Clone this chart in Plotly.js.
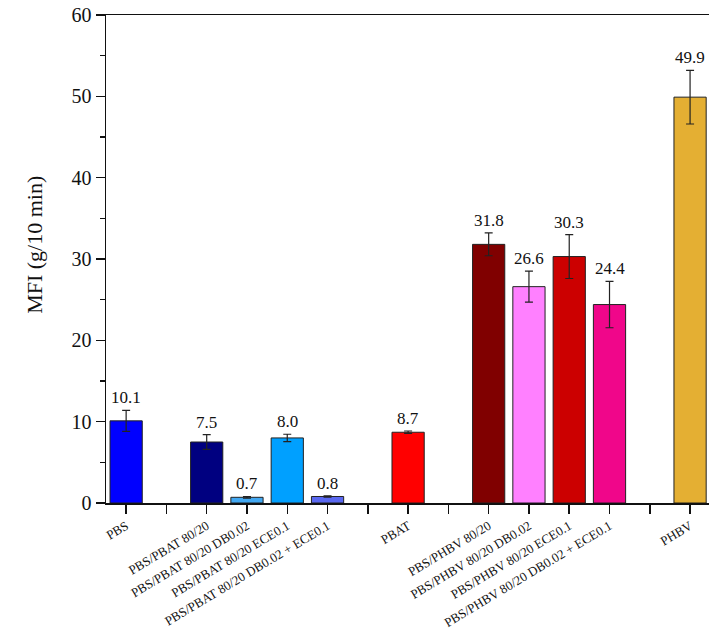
<!DOCTYPE html>
<html>
<head>
<meta charset="utf-8">
<script src="https://cdn.plot.ly/plotly-3.0.1.min.js"></script>
<style>
  html, body { margin: 0; padding: 0; background: #fff; }
  #chart { width: 709px; height: 643px; }
</style>
</head>
<body>
<div id="chart"></div>
<script>
// Sample slots along the x axis (empty strings are spacer slots)
const slotLabels = [
  "PBS", "",
  "PBS/PBAT 80/20", "PBS/PBAT 80/20 DB0.02", "PBS/PBAT 80/20 ECE0.1", "PBS/PBAT 80/20 DB0.02 + ECE0.1",
  "", "PBAT", "",
  "PBS/PHBV 80/20", "PBS/PHBV 80/20 DB0.02", "PBS/PHBV 80/20 ECE0.1", "PBS/PHBV 80/20 DB0.02 + ECE0.1",
  "", "PHBV"
];

// Melt flow index per sample (g/10 min) and its standard deviation
const samples = [
  "PBS",
  "PBS/PBAT 80/20", "PBS/PBAT 80/20 DB0.02", "PBS/PBAT 80/20 ECE0.1", "PBS/PBAT 80/20 DB0.02 + ECE0.1",
  "PBAT",
  "PBS/PHBV 80/20", "PBS/PHBV 80/20 DB0.02", "PBS/PHBV 80/20 ECE0.1", "PBS/PHBV 80/20 DB0.02 + ECE0.1",
  "PHBV"
];
const mfi    = [10.1, 7.5, 0.7, 8.0, 0.8, 8.7, 31.8, 26.6, 30.3, 24.4, 49.9];
const mfiErr = [1.3, 0.9, 0.1, 0.45, 0.08, 0.15, 1.4, 1.9, 2.7, 2.85, 3.3];

const barColors = [
  "#0000ff",
  "#000080", "#42a8f2", "#00a0ff", "#5a68f0",
  "#ff0000",
  "#800000", "#ff80ff", "#cc0000", "#f0068a",
  "#e4af33"
];

const serif = "'Liberation Serif', 'Times New Roman', Times, serif";

const xPos = samples.map(s => slotLabels.indexOf(s));

const bars = {
  type: "bar",
  x: xPos,
  y: mfi,
  width: 0.8,
  marker: { color: barColors, line: { color: "#222", width: 1 } },
  error_y: { type: "data", array: mfiErr, visible: true, color: "#222", thickness: 1.2, width: 4 },
  hoverinfo: "skip"
};

// value labels sit just above each error bar
const valueLabels = samples.map((s, i) => ({
  x: xPos[i],
  y: mfi[i] + mfiErr[i],
  xref: "x", yref: "y",
  text: mfi[i].toFixed(1),
  showarrow: false,
  yanchor: "bottom",
  yshift: 1,
  font: { family: serif, size: 17, color: "#111" }
}));

const yTitle = {
  xref: "paper", yref: "paper",
  x: 0, y: 0.529,
  xshift: -71,
  xanchor: "center", yanchor: "middle",
  text: "MFI (g/10 min)",
  textangle: -90,
  showarrow: false,
  font: { family: serif, size: 22, color: "#111" }
};

const layout = {
  width: 709,
  height: 643,
  margin: { l: 106, r: 0, t: 15, b: 140 },
  paper_bgcolor: "#fff",
  plot_bgcolor: "#fff",
  showlegend: false,
  bargap: 0,
  xaxis: {
    range: [-0.5, 14.47],
    tickmode: "array",
    tickvals: slotLabels.map((_, i) => i),
    ticktext: slotLabels,
    tickangle: -31,
    ticks: "outside",
    ticklen: 9,
    tickwidth: 1.5,
    tickcolor: "#111",
    showline: true,
    linecolor: "#111",
    linewidth: 1.5,
    mirror: true,
    showgrid: false,
    zeroline: false,
    tickfont: { family: serif, size: 13, color: "#111" }
  },
  yaxis: {
    range: [0, 60],
    tickvals: [0, 10, 20, 30, 40, 50, 60],
    ticks: "outside",
    ticklen: 9,
    tickwidth: 1.5,
    tickcolor: "#111",
    minor: { dtick: 5, ticks: "outside", ticklen: 5, tickwidth: 1.5, tickcolor: "#111" },
    showline: true,
    linecolor: "#111",
    linewidth: 1.5,
    showgrid: false,
    zeroline: false,
    tickfont: { family: serif, size: 20, color: "#111" }
  },
  annotations: valueLabels.concat([yTitle])
};

Plotly.newPlot("chart", [bars], layout, { displayModeBar: false, staticPlot: true });
</script>
</body>
</html>
